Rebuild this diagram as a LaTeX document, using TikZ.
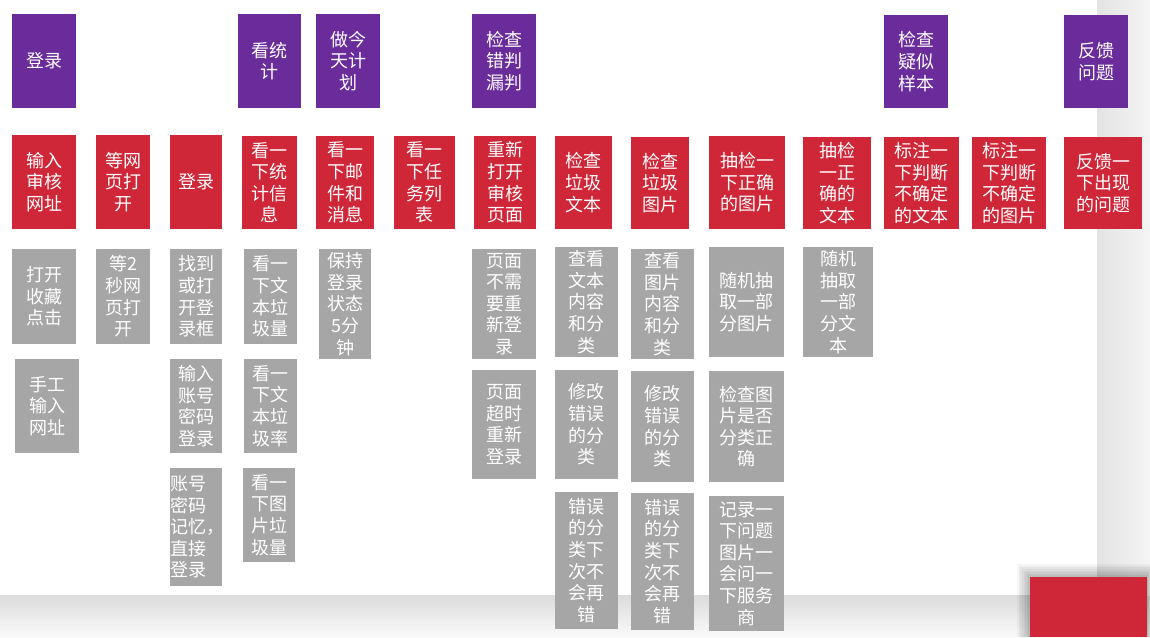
\documentclass[tikz,border=0pt]{standalone}
\usepackage{fontspec}
\newfontfamily\cjk{Noto Sans CJK SC}
\definecolor{purp}{HTML}{6A2B9B}
\definecolor{redb}{HTML}{CF2638}
\definecolor{grayb}{HTML}{A6A6A6}
\tikzset{
  bx/.style={inner sep=0pt, outer sep=0pt, text=white, align=center,
    font=\cjk\fontsize{18}{21.6}\selectfont},
  pbox/.style={bx, fill=purp},
  rbox/.style={bx, fill=redb},
  gbox/.style={bx, fill=grayb},
}
\newcommand\bx[7]{\node[#6, minimum width={(#4-#2)*1pt}, minimum height={(#5-#3)*1pt}] (#1) at ({(#2+#4)/2},{(#3+#5)/2}) {#7};}
\begin{document}
\begin{tikzpicture}[x=1pt,y=-1pt]
\useasboundingbox (0,0) rectangle (1150,637);
% page background
\fill[white] (0,0) rectangle (1150,637);
\shade[top color=black!14, bottom color=black!2] (0,595) rectangle (1150,637);
\shade[left color=black!11, right color=black!4] (1097,0) rectangle (1150,595);
% purple headers
\bx{p1}{12}{14}{76}{108}{pbox}{登录}
\bx{p2}{238}{14}{301}{108}{pbox}{看统\\计}
\bx{p3}{316}{14}{380}{108}{pbox}{做今\\天计\\划}
\bx{p4}{472}{14}{536}{108}{pbox}{检查\\错判\\漏判}
\bx{p5}{884}{15}{948}{108}{pbox}{检查\\疑似\\样本}
\bx{p6}{1064}{15}{1128}{108}{pbox}{反馈\\问题}
% red steps
\bx{r1}{12}{135}{76}{229}{rbox}{输入\\审核\\网址}
\bx{r2}{96}{135}{150}{229}{rbox}{等网\\页打\\开}
\bx{r3}{170}{135}{222}{229}{rbox}{登录}
\bx{r4}{242}{136}{297}{229}{rbox}{看一\\下统\\计信\\息}
\bx{r5}{316}{136}{374}{229}{rbox}{看一\\下邮\\件和\\消息}
\bx{r6}{394}{136}{455}{229}{rbox}{看一\\下任\\务列\\表}
\bx{r7}{474}{136}{536}{229}{rbox}{重新\\打开\\审核\\页面}
\bx{r8}{555}{136}{612}{229}{rbox}{检查\\垃圾\\文本}
\bx{r9}{631}{137}{689}{229}{rbox}{检查\\垃圾\\图片}
\bx{r10}{709}{136}{785}{229}{rbox}{抽检一\\下正确\\的图片}
\bx{r11}{803}{137}{871}{229}{rbox}{抽检\\一正\\确的\\文本}
\bx{r12}{884}{137}{959}{229}{rbox}{标注一\\下判断\\不确定\\的文本}
\bx{r13}{972}{137}{1046}{229}{rbox}{标注一\\下判断\\不确定\\的图片}
\bx{r14}{1064}{137}{1142}{229}{rbox}{反馈一\\下出现\\的问题}
% gray details
\bx{g1}{12}{249}{76}{344}{gbox}{打开\\收藏\\点击}
\bx{g2}{15}{359}{79}{453}{gbox}{手工\\输入\\网址}
\bx{g3}{96}{249}{150}{344}{gbox}{等2\\秒网\\页打\\开}
\bx{g4}{170}{249}{222}{344}{gbox}{找到\\或打\\开登\\录框}
\bx{g5}{170}{359}{222}{453}{gbox}{输入\\账号\\密码\\登录}
\node[gbox, align=left, minimum width=52pt, minimum height=118pt, text width=52pt] (g6) at (196,527) {账号\\密码\\记忆，\\直接\\登录};
\bx{g7}{244}{249}{297}{344}{gbox}{看一\\下文\\本垃\\圾量}
\bx{g8}{244}{359}{297}{453}{gbox}{看一\\下文\\本垃\\圾率}
\bx{g9}{243}{468}{295}{562}{gbox}{看一\\下图\\片垃\\圾量}
\bx{g10}{319}{249}{371}{359}{gbox}{保持\\登录\\状态\\5分\\钟}
\bx{g11}{472}{249}{536}{359}{gbox}{页面\\不需\\要重\\新登\\录}
\bx{g12}{472}{370}{536}{479}{gbox}{页面\\超时\\重新\\登录}
\bx{g13}{555}{247}{618}{357}{gbox}{查看\\文本\\内容\\和分\\类}
\bx{g14}{555}{370}{618}{479}{gbox}{修改\\错误\\的分\\类}
\bx{g15}{555}{492}{618}{629}{gbox}{错误\\的分\\类下\\次不\\会再\\错}
\bx{g16}{631}{249}{694}{359}{gbox}{查看\\图片\\内容\\和分\\类}
\bx{g17}{631}{371}{694}{482}{gbox}{修改\\错误\\的分\\类}
\bx{g18}{631}{493}{694}{630}{gbox}{错误\\的分\\类下\\次不\\会再\\错}
\bx{g19}{709}{247}{784}{357}{gbox}{随机抽\\取一部\\分图片}
\bx{g20}{709}{371}{784}{482}{gbox}{检查图\\片是否\\分类正\\确}
\bx{g21}{709}{496}{784}{631}{gbox}{记录一\\下问题\\图片一\\会问一\\下服务\\商}
\bx{g22}{803}{247}{873}{357}{gbox}{随机\\抽取\\一部\\分文\\本}
% bottom-right red block with soft shadow
\foreach \i in {1,...,8}{
  \fill[black, opacity=0.035] ({1030-1.6*\i},{577-1.6*\i}) rectangle ({1147+0.6*\i},637);
}
\fill[redb] (1030,577) rectangle (1147,637);
\end{tikzpicture}
\end{document}
